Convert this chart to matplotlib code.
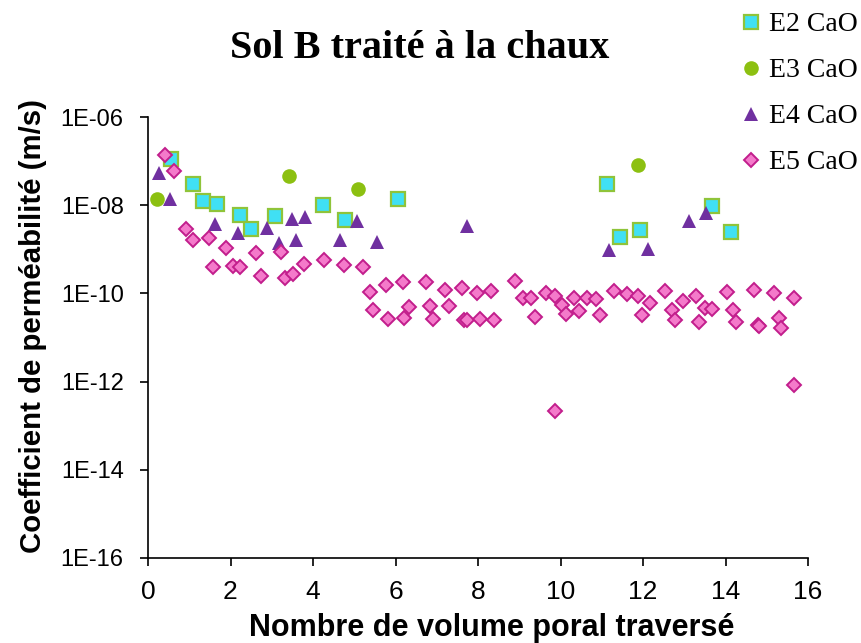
import numpy as np
import matplotlib.pyplot as plt
from matplotlib.lines import Line2D
from matplotlib.ticker import FixedLocator, NullLocator

# permeability vs. pore volumes passed, four lime-treated specimens
e2_x = [0.55, 1.10, 1.33, 1.68, 2.23, 2.50, 3.08, 4.25, 4.78, 6.07,
        11.13, 11.45, 11.93, 13.67, 14.13]
e2_k = [1.14e-7, 3.0e-8, 1.22e-8, 1.09e-8, 6.1e-9, 2.95e-9, 5.8e-9, 1.03e-8,
        4.5e-9, 1.39e-8, 2.97e-8, 1.87e-9, 2.8e-9, 9.4e-9, 2.43e-9]

e3_x = [0.21, 3.43, 5.10, 11.87]
e3_k = [1.41e-8, 4.5e-8, 2.3e-8, 8.3e-8]

e4_x = [0.27, 0.54, 1.62, 2.18, 2.88, 3.17, 3.50, 3.58, 3.80, 4.65, 5.07,
        5.54, 7.73, 11.18, 12.11, 13.12, 13.53]
e4_k = [5.4e-8, 1.41e-8, 3.8e-9, 2.36e-9, 3.0e-9, 1.4e-9, 4.9e-9, 1.6e-9,
        5.3e-9, 1.66e-9, 4.3e-9, 1.48e-9, 3.45e-9, 9.4e-10, 1.04e-9, 4.3e-9,
        6.5e-9]

e5_x = [0.40, 0.64, 0.92, 1.10, 1.47, 1.58, 1.88, 2.05, 2.23, 2.63, 2.75,
        3.22, 3.33, 3.51, 3.78, 4.27, 4.76, 5.20, 5.39, 5.46, 5.77, 5.83,
        6.17, 6.21, 6.33, 6.74, 6.84, 6.92, 7.19, 7.30, 7.62, 7.66, 7.73,
        7.98, 8.05, 8.32, 8.39, 8.90, 9.08, 9.29, 9.37, 9.64, 9.87, 9.87,
        10.03, 10.13, 10.33, 10.46, 10.64, 10.86, 10.96, 11.30, 11.60, 11.89,
        11.98, 12.17, 12.54, 12.70, 12.77, 12.98, 13.28, 13.36, 13.50, 13.67,
        14.03, 14.19, 14.25, 14.68, 14.78, 14.82, 15.18, 15.29, 15.35, 15.66,
        15.66]
e5_k = [1.35e-7, 5.9e-8, 2.9e-9, 1.66e-9, 1.85e-9, 4.0e-10, 1.06e-9, 4.1e-10,
        4.0e-10, 8.3e-10, 2.5e-10, 8.8e-10, 2.2e-10, 2.8e-10, 4.6e-10, 5.8e-10,
        4.5e-10, 3.9e-10, 1.09e-10, 4.1e-11, 1.53e-10, 2.66e-11, 1.77e-10,
        2.74e-11, 4.9e-11, 1.81e-10, 5.1e-11, 2.66e-11, 1.18e-10, 5.3e-11,
        1.33e-10, 2.43e-11, 2.47e-11, 9.95e-11, 2.66e-11, 1.13e-10, 2.5e-11,
        1.96e-10, 7.7e-11, 7.7e-11, 2.9e-11, 1.03e-10, 8.7e-11, 2.17e-13,
        5.4e-11, 3.45e-11, 7.9e-11, 3.9e-11, 7.9e-11, 7.3e-11, 3.3e-11,
        1.15e-10, 9.6e-11, 8.7e-11, 3.3e-11, 6.2e-11, 1.12e-10, 4.3e-11,
        2.43e-11, 6.6e-11, 8.7e-11, 2.27e-11, 4.7e-11, 4.5e-11, 1.08e-10,
        4.3e-11, 2.27e-11, 1.18e-10, 1.9e-11, 1.78e-11, 1.02e-10, 2.8e-11,
        1.6e-11, 7.9e-11, 8.5e-13]

series_labels = ['E2 CaO', 'E3 CaO', 'E4 CaO', 'E5 CaO']
x_ticks = [0, 2, 4, 6, 8, 10, 12, 14, 16]
y_ticks = [1e-16, 1e-14, 1e-12, 1e-10, 1e-8, 1e-6]
y_tick_labels = ['1E-16', '1E-14', '1E-12', '1E-10', '1E-08', '1E-06']

sans = 'Liberation Sans'
serif = 'Liberation Serif'

styles = [
    dict(marker='s', ms=10.5, mfc='#40E0F4', mec='#8FC43A', mew=1.6),
    dict(marker='o', ms=10.5, mfc='#8CC011', mec='#8CC011', mew=0),
    dict(marker='^', ms=10.5, mfc='#7030A0', mec='#7030A0', mew=0),
    dict(marker='D', ms=7.2, mfc='#F47ACA', mec='#C21E8C', mew=1.4),
]

fig = plt.figure(figsize=(8.61, 6.43), dpi=100)
ax = fig.add_axes([148 / 861, 1 - 558 / 643, 660 / 861, 441 / 643])

for xs, ks, st in zip([e2_x, e3_x, e4_x, e5_x], [e2_k, e3_k, e4_k, e5_k], styles):
    ax.plot(xs, ks, ls='none', clip_on=False, **st)

ax.set_yscale('log')
ax.set_xlim(0, 16)
ax.set_ylim(1e-16, 1e-6)
ax.xaxis.set_major_locator(FixedLocator(x_ticks))
ax.set_xticklabels([str(t) for t in x_ticks], fontname=sans, fontsize=19)
ax.yaxis.set_major_locator(FixedLocator(y_ticks))
ax.yaxis.set_minor_locator(NullLocator())
ax.set_yticklabels(y_tick_labels, fontname=sans, fontsize=17)

for side in ['top', 'right']:
    ax.spines[side].set_visible(False)
for side in ['left', 'bottom']:
    ax.spines[side].set_linewidth(1.2)
ax.tick_params(direction='out', length=6, width=1.2)
ax.tick_params(axis='x', pad=10)
ax.tick_params(axis='y', pad=11.5)

ax.set_xlabel('Nombre de volume poral traversé', fontname=sans,
              fontweight='bold', fontsize=22)
ax.set_ylabel('Coefficient de perméabilité (m/s)', fontname=sans,
              fontweight='bold', fontsize=21.2)
ax.xaxis.set_label_coords(0.521, -0.125)
ax.yaxis.set_label_coords(-0.153, 0.526)

fig.text(420 / 861, 1 - 48 / 643, 'Sol B traité à la chaux', fontname=serif,
         fontweight='bold', fontsize=29, ha='center', va='center')

handles = [Line2D([], [], ls='none', **st) for st in styles]
fig.legend(handles, series_labels, loc='upper left',
           bbox_to_anchor=(741 / 861, 1 - 12 / 643), frameon=False,
           prop={'family': serif, 'size': 20}, handlelength=0.7,
           handletextpad=0.3, labelspacing=0.74, borderpad=0,
           borderaxespad=0)

fig.savefig('out.png', dpi=100)
